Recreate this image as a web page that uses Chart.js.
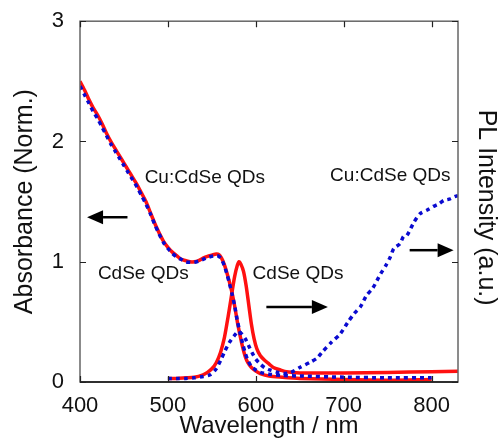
<!DOCTYPE html>
<html>
<head>
<meta charset="utf-8">
<script src="https://cdn.jsdelivr.net/npm/chart.js@4.4.1/dist/chart.umd.min.js"></script>
<style>
  html, body { margin: 0; padding: 0; background: #fff; }
  canvas { display: block; }
</style>
</head>
<body>
<canvas id="chart" width="502" height="445"></canvas>
<script>
// absorbance, CdSe QDs (red solid)
const absCdseNm = [400, 405, 410, 415, 420, 425, 430, 435, 440, 445, 450, 455, 460, 465, 470, 475, 480, 485, 490, 495, 500, 505, 510, 515, 520, 525, 530, 535, 540, 545, 550, 555, 558, 561, 564, 567, 570, 573, 576, 579, 582, 585, 588, 591, 595, 600, 605, 615, 630, 650, 700, 750, 800];
const absCdse = [2.50, 2.43, 2.35, 2.28, 2.22, 2.15, 2.07, 2.00, 1.94, 1.88, 1.82, 1.76, 1.70, 1.64, 1.57, 1.50, 1.41, 1.32, 1.24, 1.17, 1.12, 1.08, 1.05, 1.02, 1.01, 1.00, 1.00, 1.01, 1.03, 1.045, 1.055, 1.065, 1.06, 1.03, 0.98, 0.91, 0.83, 0.74, 0.63, 0.50, 0.39, 0.29, 0.21, 0.16, 0.12, 0.09, 0.07, 0.05, 0.04, 0.03, 0.02, 0.015, 0.02];

// absorbance, Cu:CdSe QDs (blue dotted)
const absCuNm = [400, 405, 410, 415, 420, 425, 430, 435, 440, 445, 450, 455, 460, 465, 470, 475, 480, 485, 490, 495, 500, 505, 510, 515, 520, 525, 530, 535, 540, 545, 550, 555, 558, 561, 564, 567, 570, 573, 576, 579, 582, 585, 588, 591, 595, 600, 605, 615, 630, 650, 700, 750, 800];
const absCu = [2.46, 2.39, 2.32, 2.25, 2.19, 2.12, 2.05, 1.98, 1.92, 1.86, 1.80, 1.74, 1.68, 1.62, 1.55, 1.48, 1.40, 1.31, 1.23, 1.16, 1.11, 1.07, 1.04, 1.02, 1.00, 0.995, 0.995, 1.005, 1.02, 1.035, 1.045, 1.05, 1.045, 1.02, 0.97, 0.90, 0.82, 0.73, 0.63, 0.51, 0.41, 0.32, 0.24, 0.18, 0.13, 0.10, 0.08, 0.065, 0.055, 0.05, 0.04, 0.035, 0.035];

// PL, CdSe QDs (red solid)
const plCdseNm = [500, 510, 520, 530, 540, 545, 550, 555, 560, 564, 567, 570, 573, 576, 579, 581, 583, 586, 589, 592, 595, 598, 601, 605, 610, 615, 620, 628, 635, 650, 700, 750, 800, 830];
const plCdse = [0.03, 0.03, 0.035, 0.04, 0.06, 0.08, 0.11, 0.16, 0.25, 0.36, 0.48, 0.61, 0.75, 0.88, 0.97, 1.00, 0.98, 0.92, 0.80, 0.64, 0.48, 0.36, 0.28, 0.22, 0.18, 0.15, 0.12, 0.10, 0.085, 0.075, 0.075, 0.08, 0.085, 0.09];

// PL, Cu:CdSe QDs (blue dotted)
const plCuNm = [500, 510, 520, 530, 540, 548, 555, 560, 565, 570, 575, 580, 584, 588, 592, 596, 600, 605, 610, 616, 625, 632, 640, 650, 662, 670, 675, 686, 696, 705, 712, 719, 726, 733, 742, 748, 753, 757, 764, 768, 772, 780, 787, 795, 802, 808, 814, 820, 826, 830];
const plCu = [0.03, 0.03, 0.03, 0.035, 0.045, 0.06, 0.11, 0.18, 0.26, 0.33, 0.38, 0.42, 0.40, 0.36, 0.30, 0.24, 0.19, 0.15, 0.12, 0.10, 0.08, 0.07, 0.08, 0.12, 0.165, 0.20, 0.245, 0.33, 0.40, 0.50, 0.57, 0.625, 0.72, 0.78, 0.90, 0.97, 1.04, 1.11, 1.15, 1.21, 1.22, 1.33, 1.40, 1.43, 1.46, 1.48, 1.51, 1.52, 1.54, 1.55];

const xTicks = [400, 500, 600, 700, 800];
const yTicks = [0, 1, 2, 3];

// annotations in data units: [text, nm, value]
const labels = [
  ["Cu:CdSe QDs", 542, 1.70],
  ["CdSe QDs", 472, 0.90],
  ["CdSe QDs", 648, 0.90],
  ["Cu:CdSe QDs", 753, 1.715],
];
// arrows: [fromNm, toNm, value]
const arrows = [
  [454, 408, 1.37],
  [612, 682, 0.624],
  [775, 825, 1.096],
];

const RED = "#ff1010";
const BLUE = "#0a0ad0";
const FONT = '"Liberation Sans", Arial, sans-serif';

function points(xs, ys) {
  return xs.map((x, i) => ({ x, y: ys[i] }));
}

const frameAndNotes = {
  id: "frameAndNotes",
  afterDatasetsDraw(chart) {
    const { ctx, chartArea: area, scales } = chart;
    const x = scales.x;
    const y = scales.y;
    ctx.save();

    // frame
    ctx.strokeStyle = "#666";
    ctx.lineWidth = 1.5;
    ctx.strokeRect(area.left, area.top, area.right - area.left, area.bottom - area.top);
    ctx.strokeStyle = "#111";
    ctx.beginPath();
    ctx.moveTo(area.left, area.bottom);
    ctx.lineTo(area.right, area.bottom);
    ctx.stroke();

    // inward ticks on all four sides
    ctx.strokeStyle = "#222";
    ctx.lineWidth = 1.2;
    ctx.beginPath();
    xTicks.forEach((v) => {
      const px = Math.round(x.getPixelForValue(v)) + 0.5;
      ctx.moveTo(px, area.bottom);
      ctx.lineTo(px, area.bottom - 6);
      ctx.moveTo(px, area.top);
      ctx.lineTo(px, area.top + 6);
    });
    yTicks.forEach((v) => {
      const py = Math.round(y.getPixelForValue(v)) + 0.5;
      ctx.moveTo(area.left, py);
      ctx.lineTo(area.left + 6, py);
      ctx.moveTo(area.right, py);
      ctx.lineTo(area.right - 6, py);
    });
    ctx.stroke();

    // text labels
    ctx.fillStyle = "#111";
    ctx.font = `19px ${FONT}`;
    ctx.textAlign = "center";
    ctx.textBaseline = "middle";
    labels.forEach(([text, nm, v]) => {
      ctx.fillText(text, x.getPixelForValue(nm), y.getPixelForValue(v));
    });

    // arrows
    ctx.strokeStyle = "#000";
    ctx.fillStyle = "#000";
    ctx.lineWidth = 2.5;
    arrows.forEach(([from, to, v]) => {
      const x0 = x.getPixelForValue(from);
      const x1 = x.getPixelForValue(to);
      const py = y.getPixelForValue(v);
      const dir = Math.sign(x1 - x0);
      const head = 16;
      ctx.beginPath();
      ctx.moveTo(x0, py);
      ctx.lineTo(x1 - dir * head, py);
      ctx.stroke();
      ctx.beginPath();
      ctx.moveTo(x1, py);
      ctx.lineTo(x1 - dir * head, py - 7);
      ctx.lineTo(x1 - dir * head, py + 7);
      ctx.closePath();
      ctx.fill();
    });

    // right axis title, drawn here so it can sit a little below centre like the original
    ctx.fillStyle = "#111";
    ctx.font = `25px ${FONT}`;
    ctx.translate(486, (area.top + area.bottom) / 2 + 6);
    ctx.rotate(Math.PI / 2);
    ctx.fillText("PL Intensity (a.u.)", 0, 0);

    ctx.restore();
  },
};

const blueStyle = {
  borderColor: BLUE,
  borderWidth: 3.5,
  borderDash: [4, 4],
  pointRadius: 0,
  tension: 0.25,
  fill: false,
};
const redStyle = {
  borderColor: RED,
  borderWidth: 3.5,
  pointRadius: 0,
  tension: 0.25,
  fill: false,
};

new Chart(document.querySelector("#chart"), {
  type: "line",
  data: {
    datasets: [
      { label: "Abs Cu:CdSe", data: points(absCuNm, absCu), ...blueStyle },
      { label: "PL Cu:CdSe", data: points(plCuNm, plCu), ...blueStyle },
      { label: "Abs CdSe", data: points(absCdseNm, absCdse), ...redStyle },
      { label: "PL CdSe", data: points(plCdseNm, plCdse), ...redStyle },
    ],
  },
  options: {
    responsive: false,
    animation: false,
    devicePixelRatio: 1,
    layout: { padding: { top: 21, left: 0, right: 44, bottom: 0 } },
    plugins: { legend: { display: false }, tooltip: { enabled: false } },
    scales: {
      x: {
        type: "linear",
        min: 400,
        max: 830,
        grid: { display: false },
        border: { display: false },
        afterBuildTicks: (scale) => { scale.ticks = xTicks.map((value) => ({ value })); },
        afterFit: (scale) => { scale.height = 63; },
        ticks: {
          color: "#111",
          padding: 3,
          maxRotation: 0,
          font: { family: FONT, size: 22 },
        },
        title: {
          display: true,
          text: "Wavelength / nm",
          color: "#111",
          padding: { top: 0, bottom: 4 },
          font: { family: FONT, size: 24 },
        },
      },
      y: {
        type: "linear",
        position: "left",
        min: 0,
        max: 3,
        grid: { display: false },
        border: { display: false },
        afterBuildTicks: (scale) => { scale.ticks = yTicks.map((value) => ({ value })); },
        afterFit: (scale) => { scale.width = 80; },
        ticks: {
          color: "#111",
          padding: 8,
          font: { family: FONT, size: 22 },
        },
        title: {
          display: true,
          text: "Absorbance (Norm.)",
          color: "#111",
          padding: { top: 10, bottom: 0 },
          font: { family: FONT, size: 25 },
        },
      },
    },
  },
  plugins: [frameAndNotes],
});
</script>
</body>
</html>
